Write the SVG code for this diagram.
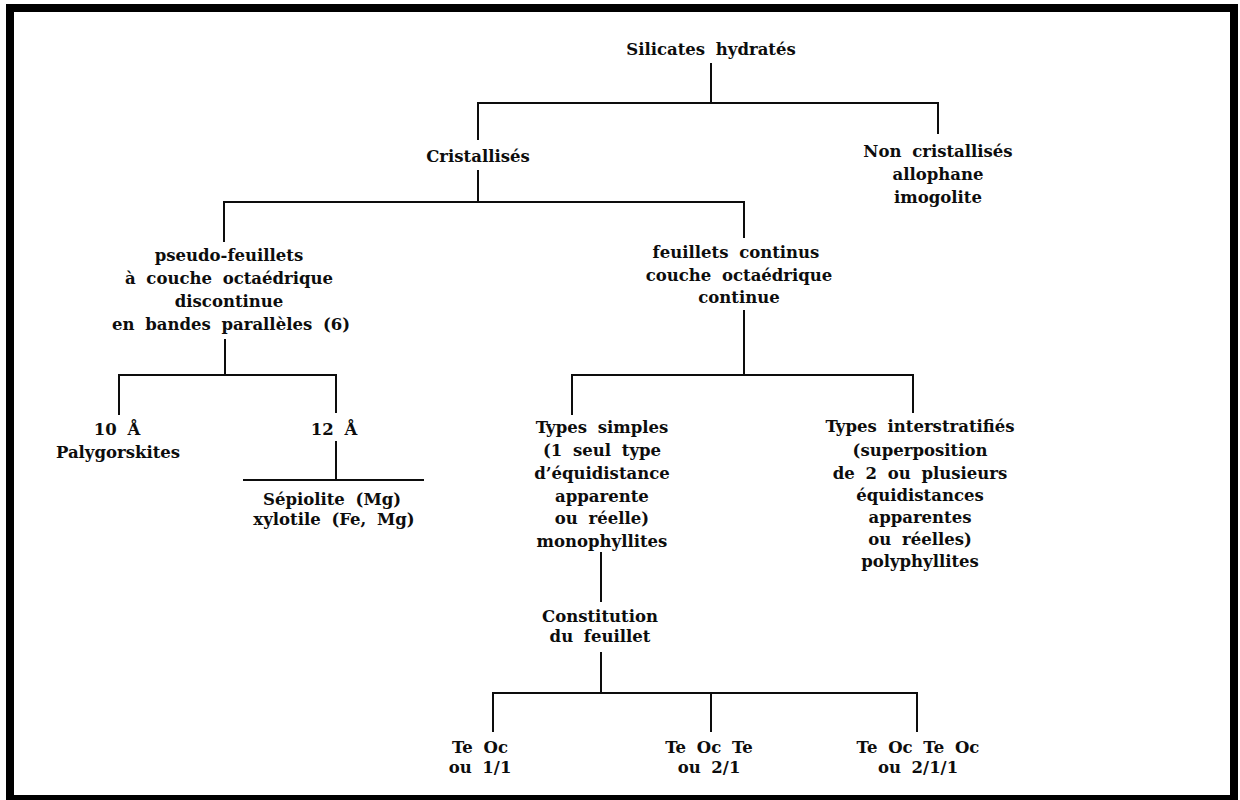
<svg xmlns="http://www.w3.org/2000/svg" width="1240" height="800" viewBox="0 0 1240 800">
<style>
text{font-family:"DejaVu Serif","Liberation Serif",serif;font-size:16.5px;font-weight:bold;fill:#0d0d0d;text-anchor:middle;word-spacing:5px}
.c line{stroke:#0d0d0d;stroke-width:2;fill:none}
</style>
<rect x="0" y="0" width="1240" height="800" fill="#fff"/>
<rect x="10" y="8" width="1224" height="791" fill="none" stroke="#000" stroke-width="8"/>
<g class="c" id="connectors">
<line x1="711" y1="63" x2="711" y2="103"/>
<line x1="478" y1="103" x2="938" y2="103"/>
<line x1="478" y1="102" x2="478" y2="140"/>
<line x1="938" y1="102" x2="938" y2="134"/>
<line x1="478" y1="170" x2="478" y2="202"/>
<line x1="224" y1="202" x2="744" y2="202"/>
<line x1="224" y1="201" x2="224" y2="242"/>
<line x1="744" y1="201" x2="744" y2="238"/>
<line x1="225" y1="339" x2="225" y2="375"/>
<line x1="119" y1="375" x2="336" y2="375"/>
<line x1="119" y1="374" x2="119" y2="415"/>
<line x1="336" y1="374" x2="336" y2="413"/>
<line x1="336" y1="441" x2="336" y2="480"/>
<line x1="243" y1="480" x2="424" y2="480"/>
<line x1="744" y1="310" x2="744" y2="375"/>
<line x1="572" y1="375" x2="913" y2="375"/>
<line x1="572" y1="374" x2="572" y2="415"/>
<line x1="913" y1="374" x2="913" y2="413"/>
<line x1="601" y1="552" x2="601" y2="602"/>
<line x1="601" y1="652" x2="601" y2="693"/>
<line x1="493" y1="693" x2="917" y2="693"/>
<line x1="493" y1="692" x2="493" y2="732"/>
<line x1="711" y1="692" x2="711" y2="732"/>
<line x1="917" y1="692" x2="917" y2="732"/>
</g>
<g id="n-silicates"><text x="711" y="55">Silicates hydratés</text></g>
<g id="n-cristallises"><text x="478" y="162">Cristallisés</text></g>
<g id="n-non"><text x="938" y="157">Non cristallisés</text><text x="938" y="180">allophane</text><text x="938" y="203">imogolite</text></g>
<g id="n-pseudo"><text x="229" y="261">pseudo-feuillets</text><text x="229" y="284">à couche octaédrique</text><text x="229" y="307">discontinue</text><text x="231" y="330">en bandes parallèles (6)</text></g>
<g id="n-10"><text x="117" y="435">10 Å</text><text x="118" y="458">Palygorskites</text></g>
<g id="n-12"><text x="334" y="435">12 Å</text></g>
<g id="n-sep"><text x="332" y="505">Sépiolite (Mg)</text><text x="334" y="525">xylotile (Fe, Mg)</text></g>
<g id="n-feuillets"><text x="736" y="258">feuillets continus</text><text x="739" y="281">couche octaédrique</text><text x="739" y="303">continue</text></g>
<g id="n-simples"><text x="602" y="433">Types simples</text><text x="602" y="456">(1 seul type</text><text x="602" y="479">d’équidistance</text><text x="602" y="502">apparente</text><text x="602" y="524">ou réelle)</text><text x="602" y="547">monophyllites</text></g>
<g id="n-inter"><text x="920" y="432">Types interstratifiés</text><text x="920" y="456">(superposition</text><text x="920" y="479">de 2 ou plusieurs</text><text x="920" y="501">équidistances</text><text x="920" y="523">apparentes</text><text x="920" y="545">ou réelles)</text><text x="920" y="567">polyphyllites</text></g>
<g id="n-constitution"><text x="600" y="622">Constitution</text><text x="600" y="642">du feuillet</text></g>
<g id="n-teoc"><text x="480" y="753">Te Oc</text><text x="480" y="773">ou 1/1</text></g>
<g id="n-teocte"><text x="709" y="753">Te Oc Te</text><text x="709" y="773">ou 2/1</text></g>
<g id="n-teocteoc"><text x="918" y="753">Te Oc Te Oc</text><text x="918" y="773">ou 2/1/1</text></g>
</svg>
